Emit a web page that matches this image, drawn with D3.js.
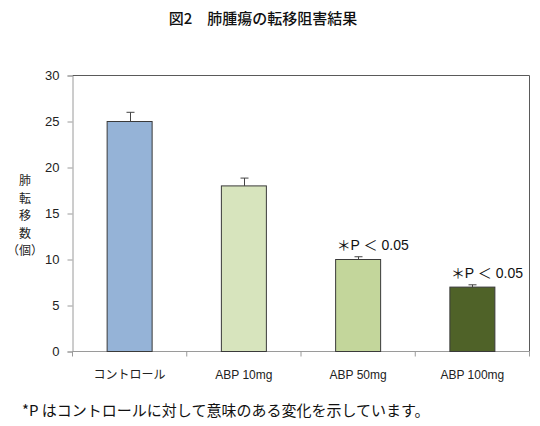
<!DOCTYPE html>
<html>
<head>
<meta charset="utf-8">
<script src="https://cdn.jsdelivr.net/npm/d3@7"></script>
<style>
  body { margin: 0; background: #fff; }
  text { font-family: "Liberation Sans", "Noto Sans CJK JP", sans-serif; }
  .jp { font-family: "Noto Sans CJK JP", sans-serif; }
</style>
</head>
<body>
<div id="chart"></div>
<script>
const groups = ["コントロール", "ABP 10mg", "ABP 50mg", "ABP 100mg"];
const means = [25, 18, 10, 7];
const errors = [1.0, 0.85, 0.3, 0.25];
const colors = ["#95B3D7", "#D7E4BD", "#C3D69B", "#4F6228"];
const notes = ["", "", "＊P ＜ 0.05", "＊P ＜ 0.05"];
const yTicks = [0, 5, 10, 15, 20, 25, 30];
const yLabelChars = ["肺", "転", "移", "数", "（個）"];

const width = 540, height = 426;
const plot = { left: 72.5, right: 529.5, top: 75.5, bottom: 351.5 };

const svg = d3.select("#chart").append("svg")
    .attr("width", width)
    .attr("height", height);

svg.append("text")
    .attr("class", "jp")
    .attr("x", 263).attr("y", 24)
    .attr("text-anchor", "middle")
    .attr("font-size", 15)
    .attr("font-weight", 500)
    .attr("fill", "#111")
    .text("図2　肺腫瘍の転移阻害結果");

const x = d3.scaleBand()
    .domain(groups)
    .range([plot.left, plot.right]);

const y = d3.scaleLinear()
    .domain([0, 30])
    .range([plot.bottom, plot.top]);

// top and right frame
svg.append("path")
    .attr("d", `M${plot.left},${plot.top}H${plot.right}V${plot.bottom}`)
    .attr("fill", "none")
    .attr("stroke", "#5a5a5a")
    .attr("stroke-width", 1);

// y axis
const yAxis = svg.append("g")
    .attr("transform", `translate(${plot.left},0)`)
    .call(d3.axisLeft(y).tickValues(yTicks).tickSize(5).tickPadding(8));
yAxis.select(".domain").attr("stroke", "#9a9a9a");
yAxis.selectAll(".tick line").attr("stroke", "#9a9a9a");
yAxis.selectAll(".tick text")
    .attr("font-size", 13)
    .attr("fill", "#222")
    .attr("font-family", "'Open Sans', 'Liberation Sans', sans-serif");

// x axis, ticks between categories
const xAxis = svg.append("g")
    .attr("transform", `translate(0,${plot.bottom})`);
xAxis.append("path")
    .attr("d", `M${plot.left},0H${plot.right}`)
    .attr("stroke", "#9a9a9a");
const bounds = d3.range(groups.length + 1).map(i => plot.left + i * x.step());
xAxis.selectAll("line.sep")
    .data(bounds)
    .enter().append("line")
    .attr("x1", d => d).attr("x2", d => d)
    .attr("y1", 0).attr("y2", 5)
    .attr("stroke", "#9a9a9a");
xAxis.selectAll("text")
    .data(groups)
    .enter().append("text")
    .attr("class", (d, i) => i === 0 ? "jp" : null)
    .attr("x", d => x(d) + x.bandwidth() / 2)
    .attr("y", 27)
    .attr("text-anchor", "middle")
    .attr("font-size", 12)
    .attr("fill", "#222")
    .text(d => d);

// bars
const barW = 45;
const bars = svg.append("g");
bars.selectAll("rect")
    .data(groups)
    .enter().append("rect")
    .attr("x", d => x(d) + x.bandwidth() / 2 - barW / 2)
    .attr("y", (d, i) => y(means[i]))
    .attr("width", barW)
    .attr("height", (d, i) => y(0) - y(means[i]))
    .attr("fill", (d, i) => colors[i])
    .attr("stroke", "#3a3a3a")
    .attr("stroke-width", 1);

// error bars (upper only)
const err = svg.append("g").attr("stroke", "#444").attr("stroke-width", 1);
groups.forEach((g, i) => {
    const cx = Math.round(x(g) + x.bandwidth() / 2) + 0.5;
    err.append("line")
        .attr("x1", cx).attr("x2", cx)
        .attr("y1", y(means[i])).attr("y2", y(means[i] + errors[i]));
    err.append("line")
        .attr("x1", cx - 4).attr("x2", cx + 4)
        .attr("y1", y(means[i] + errors[i])).attr("y2", y(means[i] + errors[i]));
});

// significance notes, starting near the bar's left edge
svg.append("g").selectAll("text")
    .data(groups)
    .enter().append("text")
    .attr("x", d => x(d) + x.bandwidth() / 2 - barW / 2 + 1)
    .attr("y", (d, i) => y(means[i] + errors[i]) - 7)
    .attr("font-size", 14)
    .attr("fill", "#111")
    .text((d, i) => notes[i]);

// vertical y label, one char per line
svg.append("g").selectAll("text")
    .data(yLabelChars)
    .enter().append("text")
    .attr("class", "jp")
    .attr("x", 25)
    .attr("y", (d, i) => 185 + i * 17.6)
    .attr("text-anchor", "middle")
    .attr("font-size", 12)
    .attr("fill", "#222")
    .text(d => d);

// footnote
svg.append("text")
    .attr("class", "jp")
    .attr("x", 22).attr("y", 416)
    .attr("font-size", 15)
    .attr("fill", "#111")
    .text("*P はコントロールに対して意味のある変化を示しています。");
</script>
</body>
</html>
